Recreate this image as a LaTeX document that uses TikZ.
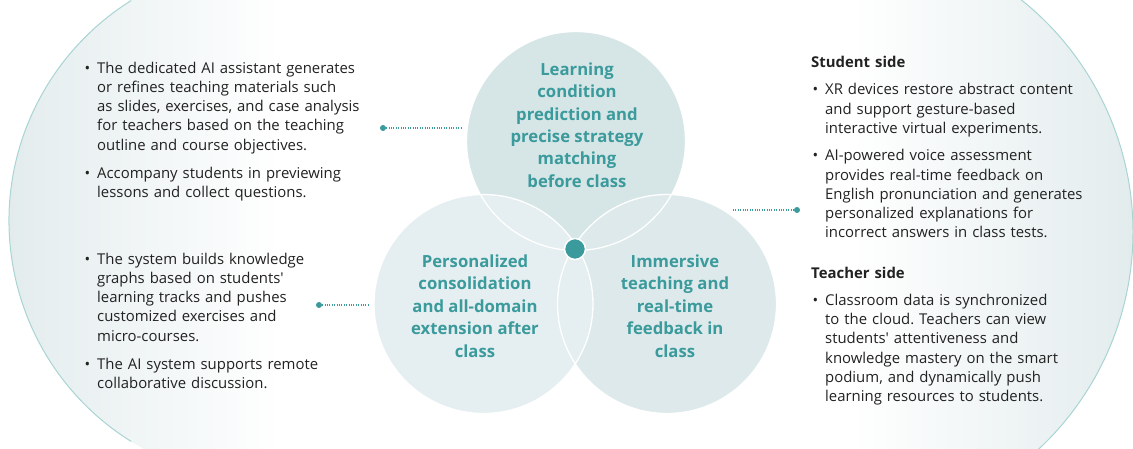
\documentclass[tikz,border=0pt]{standalone}
\usepackage{fontspec}
\setmainfont{Open Sans}
\definecolor{teal1}{HTML}{3A9A9C}
\definecolor{bodytext}{HTML}{222222}
\definecolor{bgside}{HTML}{E3ECED}
\definecolor{arcc}{HTML}{A9D4D4}
\definecolor{topc}{HTML}{D6E5E6}
\definecolor{blc}{HTML}{E5EEF0}
\definecolor{brc}{HTML}{DDE9EA}
\tikzset{
  venn/.style={circle, inner sep=0pt, minimum size=219pt},
  title/.style={align=center, text=teal1, font=\fontsize{16.7}{22.4}\selectfont\bfseries, inner sep=0pt},
  body/.style={anchor=north west, inner sep=0pt, text width=310pt, align=left, text=bodytext, font=\fontsize{14.9}{19.3}\selectfont},
  tdot/.style={circle, fill=teal1, inner sep=0pt, minimum size=6pt},
  dotline/.style={teal1, line width=1.1pt, dash pattern=on 1pt off 1.4pt},
  bigarc/.style={arcc, line width=1pt}
}
\newcommand{\bitem}{\leavevmode\llap{\textbullet\hspace{7pt}}}
\frenchspacing
\begin{document}
\begin{tikzpicture}[x=1pt,y=-1pt]
\useasboundingbox (0,0) rectangle (1133,449);
\begin{scope}
\clip (0,0) rectangle (1133,449);
% big side circles
\begin{scope}
  \clip (269,221) circle (260);
  \shade[left color=bgside, right color=white] (9,-10) rectangle (280,460);
\end{scope}
\draw[bigarc] (269,221) ++(122:260) arc[start angle=122, end angle=238, radius=260];
\begin{scope}
  \clip (836,232) circle (297);
  \shade[left color=white, right color=bgside] (850,-10) rectangle (1133,460);
\end{scope}
\draw[bigarc] (836,232) ++(-53:297) arc[start angle=-53, end angle=53, radius=297];
\end{scope}

% venn circles
\node[venn, fill=topc] (top) at (576,141) {};
\node[venn, fill=brc] (br) at (667,304) {};
\node[venn, fill=blc] (bl) at (483.5,304) {};
\draw[white, line width=1.3pt] (576,141) circle (109.5) (667,304) circle (109.5) (483.5,304) circle (109.5);
\node[circle, fill=teal1, draw=white, line width=1.5pt, inner sep=0pt, minimum size=21pt] (hub) at (575,249) {};

% titles
\node[title] (ttop) at (577,125) {Learning\\condition\\prediction and\\precise strategy\\matching\\before class};
\node[title] (tbl) at (475,306) {Personalized\\consolidation\\and all-domain\\extension after\\class};
\node[title] (tbr) at (675,306) {Immersive\\teaching and\\real-time\\feedback in\\class};

% connectors
\node[tdot] (d1) at (383,128) {};
\coordinate (e1) at (462,128);
\draw[dotline] (d1) -- (e1);
\node[tdot] (d2) at (319,305) {};
\coordinate (e2) at (370,305);
\draw[dotline] (d2) -- (e2);
\node[tdot] (d3) at (797,210) {};
\coordinate (e3) at (733,210);
\draw[dotline] (e3) -- (d3);

% text blocks
\node[body] (lt) at (85,61.5) {\leftskip=12pt\parskip=8.5pt
\bitem The dedicated AI assistant generates\\or refines teaching materials such\\as slides, exercises, and case analysis\\for teachers based on the teaching\\outline and course objectives.\par
\bitem Accompany students in previewing\\lessons and collect questions.\par};
\node[body] (lb) at (85,252.5) {\leftskip=12pt\parskip=8.5pt
\bitem The system builds knowledge\\graphs based on students\textquotesingle\\learning tracks and pushes\\customized exercises and\\micro-courses.\par
\bitem The AI system supports remote\\collaborative discussion.\par};
\node[body] (rs) at (811,56) {\parskip=8pt
{\bfseries Student side}\par
\leftskip=14pt
\bitem XR devices restore abstract content\\and support gesture-based\\interactive virtual experiments.\par
\bitem AI-powered voice assessment\\provides real-time feedback on\\English pronunciation and generates\\personalized explanations for\\incorrect answers in class tests.\par};
\node[body] (rt) at (811,266.5) {\parskip=8pt
{\bfseries Teacher side}\par
\leftskip=14pt
\bitem Classroom data is synchronized\\to the cloud. Teachers can view\\students\textquotesingle{} attentiveness and\\knowledge mastery on the smart\\podium, and dynamically push\\learning resources to students.\par};
\end{tikzpicture}
\end{document}
